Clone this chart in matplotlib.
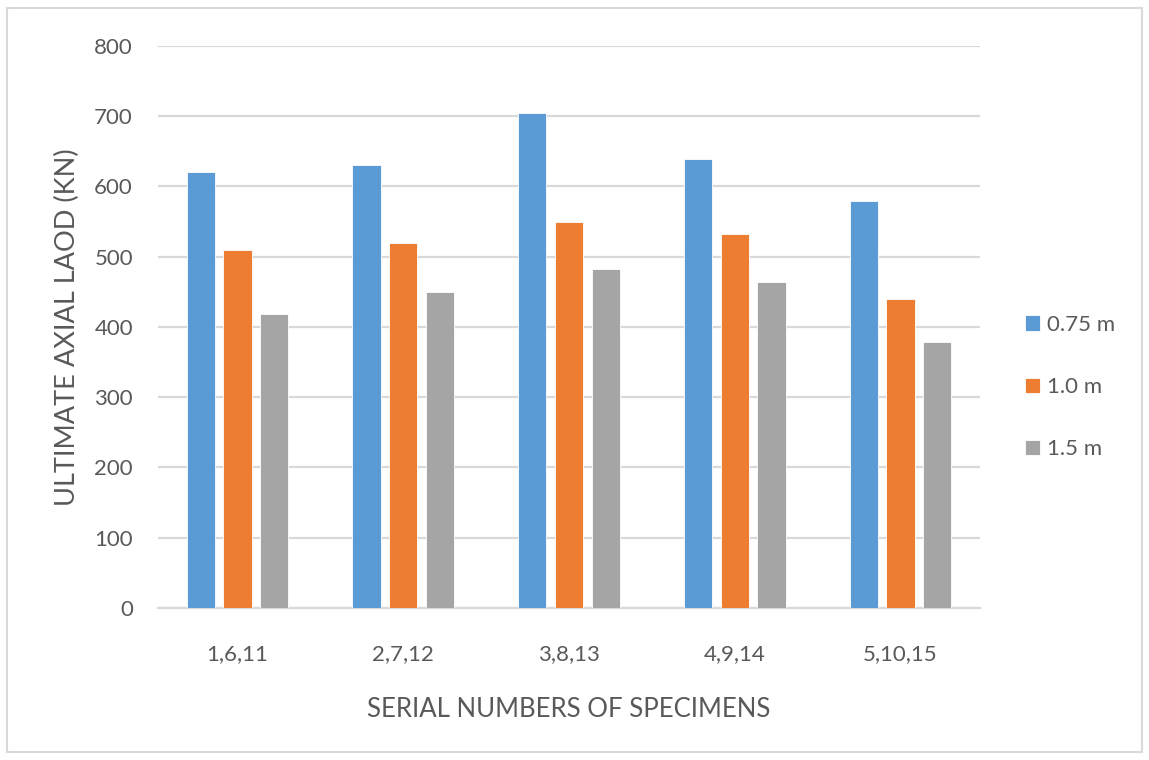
import numpy as np
import matplotlib.pyplot as plt
from matplotlib.patches import Rectangle

groups = ["1,6,11", "2,7,12", "3,8,13", "4,9,14", "5,10,15"]
series_names = ["0.75 m", "1.0 m", "1.5 m"]
load_075 = [620, 630, 704, 639, 579]
load_100 = [510, 520, 550, 533, 440]
load_150 = [419, 450, 483, 464, 378]
colors = ["#5B9BD5", "#ED7D31", "#A5A5A5"]

plt.rcParams['font.family'] = ['Lato', 'DejaVu Sans']

fig = plt.figure(figsize=(11.49, 7.60), dpi=100)
ax = fig.add_axes([0.1375, 0.2, 0.7155, 0.7395])

x = np.arange(len(groups))
width = 0.17
step = 0.222
for i, (vals, name) in enumerate(zip([load_075, load_100, load_150], series_names)):
    ax.bar(x + (i - 1) * step, vals, width, color=colors[i], label=name,
           edgecolor="white", linewidth=0.6, zorder=3)

ax.set_xlim(-0.48, len(groups) - 0.52)
ax.set_ylim(0, 800)
ax.set_yticks(range(0, 801, 100))
ax.set_xticks(x)
ax.set_xticklabels(groups)
ax.grid(axis="y", color="#d9d9d9", linewidth=1.6, zorder=0)
for s in ["top", "right", "left"]:
    ax.spines[s].set_visible(False)
ax.spines["bottom"].set_color("#d9d9d9")
ax.spines["bottom"].set_linewidth(1.6)
ax.tick_params(axis="both", length=0, labelsize=16, colors="#595959")
ax.tick_params(axis="y", pad=18)
ax.tick_params(axis="x", pad=26)

ax.set_ylabel("ULTIMATE AXIAL LAOD (KN)", fontsize=19.5, color="#595959", labelpad=10)
ax.set_xlabel("SERIAL NUMBERS OF SPECIMENS", fontsize=18.5, color="#595959", labelpad=24)

ax.legend(loc="center left", bbox_to_anchor=(1.03, 0.393), frameon=False,
          fontsize=16, labelcolor="#595959", handlelength=0.7, handleheight=0.7,
          handletextpad=0.3, labelspacing=1.9)

fig.patches.append(Rectangle((0.006, 0.01), 0.988, 0.98, transform=fig.transFigure,
                             fill=False, edgecolor="#d9d9d9", linewidth=1.5))

plt.savefig("out.png", dpi=100)
